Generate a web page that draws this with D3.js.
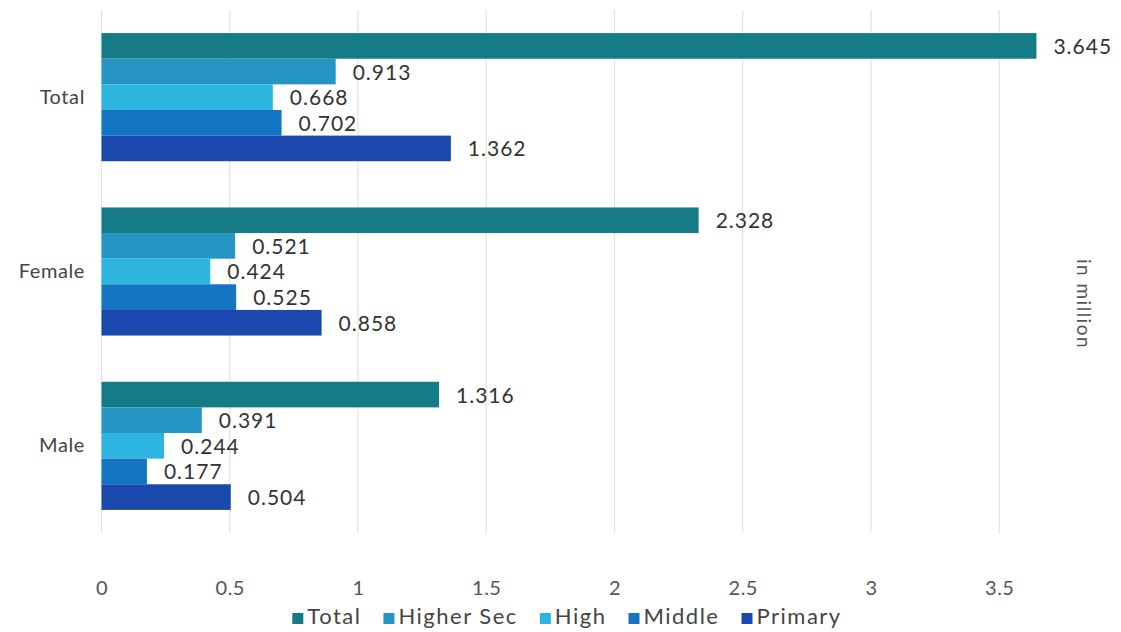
<!DOCTYPE html>
<html><head><meta charset="utf-8">
<script src="https://cdn.jsdelivr.net/npm/d3@7"></script>
<style>body{margin:0;background:#fff;}svg{display:block;font-family:Lato,"Open Sans",sans-serif;}</style>
</head><body>
<svg id="c" width="1121" height="632"></svg>
<script>
const categories = ["Total","Female","Male"];
const seriesNames = ["Total","Higher Sec","High","Middle","Primary"];
const totalVals = [3.645, 2.328, 1.316];
const higherSecVals = [0.913, 0.521, 0.391];
const highVals = [0.668, 0.424, 0.244];
const middleVals = [0.702, 0.525, 0.177];
const primaryVals = [1.362, 0.858, 0.504];
const tickVals = [0,0.5,1,1.5,2,2.5,3,3.5];
const colors = ["#157c87","#2595c3","#2eb5df","#1475c2","#1b48ad"];

const seriesVals = [totalVals, higherSecVals, highVals, middleVals, primaryVals];
const svg = d3.select("#c");
const x = d3.scaleLinear().domain([0,4]).range([101.5, 101.5+4*256.5]);
const y = d3.scaleBand().domain(categories).range([10,533]).paddingInner(0.265).paddingOuter(0.1325);
const ys = d3.scaleBand().domain(seriesNames).range([0, y.bandwidth()]);

// gridlines
svg.append("g").selectAll("line").data(tickVals).join("line")
  .attr("x1", d=>x(d)).attr("x2", d=>x(d)).attr("y1",10).attr("y2",533)
  .attr("stroke","#e2e2e2").attr("stroke-width",1.2);

// x axis
const xa = svg.append("g").attr("transform","translate(0,533)")
  .call(d3.axisBottom(x).tickValues(tickVals).tickSize(0).tickPadding(48).tickFormat(d=>String(d)));
xa.select(".domain").remove();
xa.selectAll("text").attr("font-size",20).attr("fill","#555").attr("letter-spacing","0.5px")
  .attr("font-family","Lato,'Open Sans',sans-serif");

// y axis labels
const ya = svg.append("g").attr("transform","translate(101,0)")
  .call(d3.axisLeft(y).tickSize(0).tickPadding(16));
ya.select(".domain").remove();
ya.selectAll("text").attr("font-size",20).attr("fill","#444").attr("letter-spacing","0.6px")
  .attr("font-family","Lato,'Open Sans',sans-serif");

// bars
const rows = [];
categories.forEach((c,i)=>seriesNames.forEach((s,j)=>rows.push({c, s, v: seriesVals[j][i], j})));
svg.append("g").selectAll("rect").data(rows).join("rect")
  .attr("x", x(0)).attr("y", d=>y(d.c)+ys(d.s))
  .attr("width", d=>x(d.v)-x(0)).attr("height", ys.bandwidth())
  .attr("fill", d=>colors[d.j]);

svg.append("g").selectAll("text").data(rows).join("text")
  .attr("x", d=>x(d.v)+17).attr("y", d=>y(d.c)+ys(d.s)+ys.bandwidth()/2)
  .attr("dy","0.38em").attr("font-size",21).attr("fill","#333").attr("letter-spacing","1px")
  .text(d=>d.v.toFixed(3));

// unit label
svg.append("text").attr("transform","translate(1077,304) rotate(90)")
  .attr("text-anchor","middle").attr("font-size",19).attr("letter-spacing","1.5px")
  .attr("fill","#555").text("in million");

// legend
const lg = svg.append("g");
const items = lg.selectAll("g").data(seriesNames).join("g");
items.append("rect").attr("width",11).attr("height",11).attr("y",-10).attr("fill",(d,i)=>colors[i]);
items.append("text").attr("x",15).attr("dy","0.05em").attr("font-size",22).attr("letter-spacing","1.5px")
  .attr("fill","#444").text(d=>d);
let off = 0;
items.each(function(){ const w=this.getBBox().width; d3.select(this).attr("transform",`translate(${off},0)`); off += w+22; });
const totalW = off-22;
lg.attr("transform",`translate(${567-totalW/2},623)`);
</script>
</body></html>
